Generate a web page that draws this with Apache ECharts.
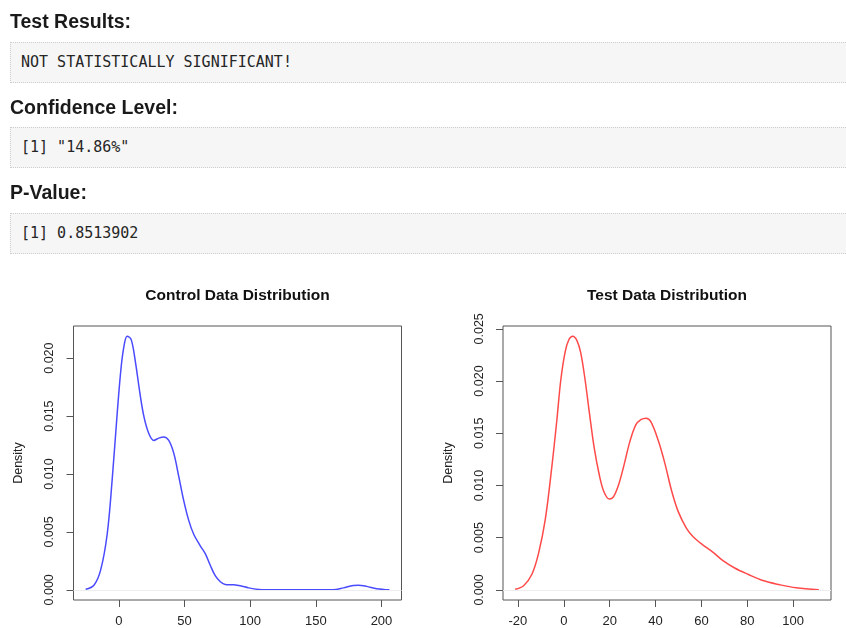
<!DOCTYPE html>
<html>
<head>
<meta charset="utf-8">
<script src="https://cdn.jsdelivr.net/npm/echarts@6/dist/echarts.min.js"></script>
<style>
  html, body { margin: 0; padding: 0; background: #fff; width: 846px; height: 628px; overflow: hidden; }
  #chart { position: absolute; left: 0; top: 0; width: 846px; height: 628px; }
  .heading {
    position: absolute; left: 10px; white-space: nowrap;
    font-family: "Liberation Sans", Arial, Helvetica, sans-serif;
    font-weight: bold; font-size: 19.5px; line-height: 19.5px; color: #1a1a1a;
  }
  .output {
    position: absolute; left: 10px; right: -20px; height: 39px;
    background: #f6f6f6; border: 1px dotted #cdcdcd; padding-left: 10px;
    font-family: "DejaVu Sans Mono", monospace; font-size: 15px; line-height: 39px;
    color: #262626; white-space: pre;
  }
</style>
</head>
<body>
<div id="chart"></div>
<script>
// Printed results of the significance test
const sectionHeadings = ['Test Results:', 'Confidence Level:', 'P-Value:'];
const sectionOutputs = ['NOT STATISTICALLY SIGNIFICANT!', '[1] "14.86%"', '[1] 0.8513902'];

// Kernel density estimate of the control group
const controlX = [-25.3, -19, -13.9, -8.9, -5.1, -1.3, 1.8, 4.3, 6.3, 9.4, 12.7, 16, 19, 22.8,
  26.6, 30.4, 34.2, 38, 41.8, 45.6, 49.4, 53.2, 57, 62, 65.9, 69.7, 73.5, 77.3, 81, 87.4, 92.5,
  98.8, 106.4, 112.7, 130, 150, 163, 171, 178.5, 182.4, 188.7, 196.4, 206];
const controlDensity = [0.00005, 0.0004, 0.0017, 0.0048, 0.0095, 0.0152, 0.0193, 0.0213, 0.0219,
  0.0216, 0.0196, 0.0170, 0.0150, 0.0135, 0.0129, 0.0131, 0.0132, 0.0129, 0.0118, 0.0098, 0.0077,
  0.0060, 0.0048, 0.0038, 0.0031, 0.0021, 0.0012, 0.0007, 0.00046, 0.00043, 0.00035, 0.00017,
  0.00003, 0.0, 0.0, 0.0, 0.00001, 0.00017, 0.00038, 0.0004, 0.0003, 0.0001, 0.0];

// Kernel density estimate of the test group
const testX = [-21.2, -17.5, -13.9, -11, -8.1, -5.2, -3, -1.3, 0.6, 2.3, 3.9, 5.7, 7.4, 9.3, 11.2,
  13.2, 15.4, 17.5, 19.9, 21.6, 23.8, 26.2, 28.8, 31.4, 33.6, 35.8, 38.0, 41.2, 44.1, 47, 49.9,
  53.5, 56.4, 60.7, 65.1, 69.4, 74.5, 80.3, 86.8, 94.1, 101.3, 111.2];
const testDensity = [0.00006, 0.0004, 0.0015, 0.0035, 0.0067, 0.0118, 0.0163, 0.0201, 0.0228,
  0.0240, 0.0243, 0.0239, 0.0227, 0.0201, 0.0169, 0.0137, 0.0111, 0.0094, 0.0087, 0.0089, 0.0100,
  0.0119, 0.0142, 0.0158, 0.0163, 0.01645, 0.0161, 0.0143, 0.0121, 0.0095, 0.0075, 0.0059, 0.0051,
  0.0043, 0.0036, 0.0028, 0.0021, 0.0015, 0.0009, 0.0005, 0.0002, 0.00001];

// Tick positions
const controlXTicks = [0, 50, 100, 150, 200];
const controlYTicks = [0, 0.005, 0.010, 0.015, 0.020];
const testXTicks = [-20, 0, 20, 40, 60, 80, 100];
const testYTicks = [0, 0.005, 0.010, 0.015, 0.020, 0.025];

const plotTitles = ['Control Data Distribution', 'Test Data Distribution'];
const densityLabel = 'Density';

// ---- printed output blocks ----
const headingTops = [12, 97.5, 183];
const outputTops = [42, 127, 213];
sectionHeadings.forEach((txt, i) => {
  const h = document.createElement('div');
  h.className = 'heading';
  h.style.top = headingTops[i] + 'px';
  h.textContent = txt;
  document.body.appendChild(h);
  const o = document.createElement('div');
  o.className = 'output';
  o.style.top = outputTops[i] + 'px';
  o.textContent = sectionOutputs[i];
  document.body.appendChild(o);
});

// ---- density plots ----
const FONT = '"Liberation Sans", Arial, Helvetica, sans-serif';
const INK = '#555';

// base-graphics style 4% padding around the data range
function padRange(values) {
  const lo = Math.min(...values), hi = Math.max(...values);
  const pad = 0.04 * (hi - lo);
  return [lo - pad, hi + pad];
}

function xAxisFor(gridIndex, xs, ticks) {
  const [lo, hi] = padRange(xs);
  return {
    type: 'value', gridIndex, min: lo, max: hi, position: 'bottom',
    splitLine: { show: false },
    axisLine: { show: false, onZero: false },
    axisTick: { show: true, inside: false, length: 7, customValues: ticks, lineStyle: { color: INK } },
    axisLabel: { customValues: ticks, margin: 15, fontSize: 13, color: '#222', fontFamily: FONT,
      formatter: v => String(Math.round(v)) }
  };
}

function yAxisFor(gridIndex, ds, ticks) {
  const [lo, hi] = padRange(ds);
  return {
    type: 'value', gridIndex, min: lo, max: hi, position: 'left',
    name: densityLabel, nameLocation: 'middle', nameRotate: 90, nameGap: 48,
    nameTextStyle: { fontSize: 12.5, color: '#222', fontFamily: FONT },
    splitLine: { show: false },
    axisLine: { show: false, onZero: false },
    axisTick: { show: true, inside: false, length: 7, customValues: ticks, lineStyle: { color: INK } },
    axisLabel: { customValues: ticks, rotate: 90, margin: 17, fontSize: 12.5, color: '#222', fontFamily: FONT,
      formatter: v => v.toFixed(3) }
  };
}

function densitySeries(idx, xs, ds, color) {
  return {
    type: 'line', xAxisIndex: idx, yAxisIndex: idx,
    data: xs.map((x, i) => [x, ds[i]]),
    showSymbol: false, smooth: 0.35, clip: false,
    lineStyle: { color, width: 1.5 },
    markLine: {
      silent: true, symbol: 'none', label: { show: false },
      lineStyle: { color: '#eeeeee', width: 1, type: 'solid' },
      data: [{ yAxis: 0 }]
    },
    z: 3
  };
}

const chart = echarts.init(document.getElementById('chart'), null, { renderer: 'canvas' });
chart.setOption({
  animation: false,
  backgroundColor: 'transparent',
  title: [
    { text: plotTitles[0], left: 237.5, top: 288, textAlign: 'center', padding: 0,
      textStyle: { fontSize: 15.5, fontWeight: 'bold', color: '#111', fontFamily: FONT } },
    { text: plotTitles[1], left: 667, top: 288, textAlign: 'center', padding: 0,
      textStyle: { fontSize: 15.5, fontWeight: 'bold', color: '#111', fontFamily: FONT } }
  ],
  grid: [
    { left: 73.5, top: 326, width: 328, height: 274, show: true, borderColor: INK, borderWidth: 1,
      backgroundColor: 'transparent', containLabel: false },
    { left: 503, top: 326, width: 328, height: 274, show: true, borderColor: INK, borderWidth: 1,
      backgroundColor: 'transparent', containLabel: false }
  ],
  xAxis: [xAxisFor(0, controlX, controlXTicks), xAxisFor(1, testX, testXTicks)],
  yAxis: [yAxisFor(0, controlDensity, controlYTicks), yAxisFor(1, testDensity, testYTicks)],
  series: [
    densitySeries(0, controlX, controlDensity, '#4a4aff'),
    densitySeries(1, testX, testDensity, '#ff4a4a')
  ]
});
</script>
</body>
</html>
